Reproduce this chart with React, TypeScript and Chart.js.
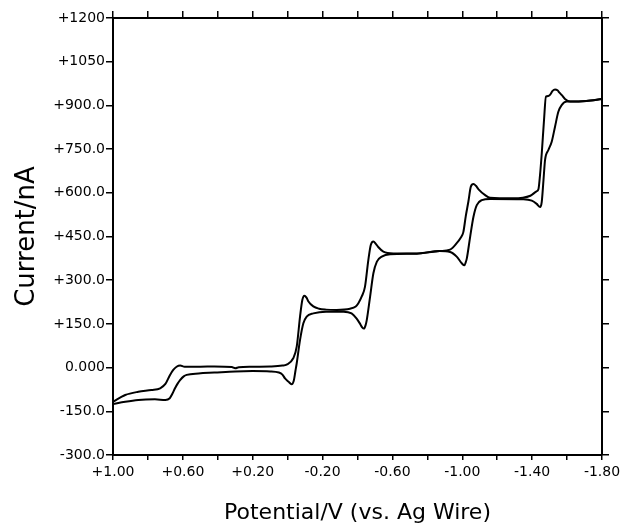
import React, { useEffect, useRef } from 'react';
import { Chart, registerables } from 'chart.js';

Chart.register(...registerables);

// Forward (cathodic) scan: potential in V, current in nA
const forwardPotential = [
  1.0, 0.93, 0.855, 0.78, 0.73, 0.7, 0.675, 0.655, 0.636, 0.615, 0.59, 0.5, 0.42, 0.32, 0.3, 0.28, 0.2, 0.1,
  0.03, 0.006, -0.032, -0.052, -0.071, -0.084, -0.096, -0.108, -0.118, -0.147, -0.18, -0.22, -0.28, -0.357,
  -0.39, -0.405, -0.425, -0.443, -0.462, -0.476, -0.491, -0.505, -0.52, -0.548, -0.605, -0.74, -0.87, -0.93,
  -0.968, -0.99, -1.006, -1.02, -1.035, -1.049, -1.064, -1.078, -1.093, -1.131, -1.159, -1.29, -1.39, -1.425,
  -1.436, -1.445, -1.455, -1.468, -1.479, -1.493, -1.502, -1.517, -1.531, -1.545, -1.555, -1.57, -1.588,
  -1.617, -1.71, -1.8,
];
const forwardCurrent = [
  -117, -94, -83, -77, -71, -56, -27, -8, 3, 7, 3, 3, 4, 2, -2, 1, 3, 4,
  7, 10, 32, 72, 175, 232, 247, 240, 228, 210, 202, 199, 198, 202,
  210, 221, 245, 278, 369, 421, 433, 425, 413, 398, 392, 392, 400, 405,
  427, 445, 465, 520, 570, 621, 630, 624, 612, 592, 583, 581, 590, 605,
  612, 660, 735, 850, 930, 932, 936, 950, 955, 952, 945, 935, 922,
  913, 915, 922,
];

// Reverse (anodic) scan
const reversePotential = [
  1.0, 0.93, 0.855, 0.76, 0.7, 0.675, 0.66, 0.645, 0.63, 0.616, 0.595, 0.578, 0.51, 0.42, 0.3, 0.2, 0.1, 0.05,
  0.03, 0.015, -0.004, -0.023, -0.035, -0.045, -0.052, -0.071, -0.09, -0.109, -0.147, -0.22, -0.32, -0.366,
  -0.394, -0.415, -0.428, -0.437, -0.446, -0.453, -0.472, -0.491, -0.511, -0.539, -0.587, -0.74, -0.87, -0.93,
  -0.968, -0.997, -1.012, -1.02, -1.026, -1.045, -1.064, -1.083, -1.112, -1.159, -1.35, -1.398, -1.426,
  -1.446, -1.455, -1.465, -1.474, -1.493, -1.512, -1.531, -1.55, -1.569, -1.598, -1.617, -1.71, -1.8,
];
const reverseCurrent = [
  -125, -117, -111, -109, -111, -105, -90, -71, -55, -43, -30, -25, -20, -17, -13, -12, -13, -17,
  -24, -37, -48, -57, -45, -10, 15, 95, 152, 175, 186, 192, 192, 186,
  169, 150, 137, 134, 145, 163, 243, 324, 364, 381, 389, 391, 400, 397,
  381, 358, 351, 362, 375, 449, 518, 558, 575, 579, 578, 573, 562,
  551, 569, 644, 713, 747, 775, 827, 878, 901, 913, 913, 915, 922,
];

const xTickValues = [1.0, 0.6, 0.2, -0.2, -0.6, -1.0, -1.4, -1.8];
const xTickLabels = ['+1.00', '+0.60', '+0.20', '-0.20', '-0.60', '-1.00', '-1.40', '-1.80'];
const yTickValues = [-300, -150, 0, 150, 300, 450, 600, 750, 900, 1050, 1200];
const yTickLabels = ['-300.0', '-150.0', '0.000', '+150.0', '+300.0', '+450.0', '+600.0', '+750.0', '+900.0', '+1050', '+1200'];

const FONT = "'DejaVu Sans', sans-serif";

function labelFor(values: number[], labels: string[], v: number): string {
  for (let i = 0; i < values.length; i++) {
    if (Math.abs(values[i] - v) < 1e-6) return labels[i];
  }
  return '';
}

export default function App() {
  const canvasRef = useRef<HTMLCanvasElement | null>(null);

  useEffect(() => {
    if (!canvasRef.current) return;
    const fwd = forwardPotential.map((x, i) => ({ x, y: forwardCurrent[i] }));
    const rev = reversePotential.map((x, i) => ({ x, y: reverseCurrent[i] }));
    const gridStyle = { drawOnChartArea: false, drawTicks: true, color: '#000', lineWidth: 1.5 };
    const borderStyle = { display: true, color: '#000', width: 2 };
    const chart = new Chart(canvasRef.current, {
      type: 'scatter',
      data: {
        datasets: [
          {
            label: 'forward',
            data: fwd,
            showLine: true,
            borderColor: '#000',
            borderWidth: 2,
            pointRadius: 0,
            cubicInterpolationMode: 'monotone',
          },
          {
            label: 'reverse',
            data: rev,
            showLine: true,
            borderColor: '#000',
            borderWidth: 2,
            pointRadius: 0,
            cubicInterpolationMode: 'monotone',
          },
        ],
      },
      options: {
        responsive: true,
        maintainAspectRatio: false,
        animation: false,
        layout: { padding: 0 },
        plugins: { legend: { display: false }, tooltip: { enabled: false } },
        scales: {
          x: {
            type: 'linear',
            position: 'bottom',
            min: -1.8,
            max: 1.0,
            reverse: true,
            ticks: {
              stepSize: 0.2,
              autoSkip: false,
              maxRotation: 0,
              minRotation: 0,
              padding: 4,
              color: '#000',
              font: { family: FONT, size: 14 },
              callback: (v: any) => labelFor(xTickValues, xTickLabels, Number(v)),
            },
            grid: { ...gridStyle, tickLength: 5 },
            border: borderStyle,
            title: {
              display: true,
              text: 'Potential/V (vs. Ag Wire)',
              color: '#000',
              font: { family: FONT, size: 22 },
              padding: { top: 0, bottom: 6 },
            },
            afterFit: (s: any) => {
              s.height = 77;
            },
          },
          xTop: {
            type: 'linear',
            position: 'top',
            min: -1.8,
            max: 1.0,
            reverse: true,
            ticks: { display: false, stepSize: 0.2, autoSkip: false },
            grid: { ...gridStyle, tickLength: 7 },
            border: borderStyle,
            afterFit: (s: any) => {
              s.height = 18;
            },
          },
          y: {
            type: 'linear',
            position: 'left',
            min: -300,
            max: 1200,
            ticks: {
              stepSize: 150,
              autoSkip: false,
              padding: 1,
              color: '#000',
              font: { family: FONT, size: 14 },
              callback: (v: any) => labelFor(yTickValues, yTickLabels, Number(v)),
            },
            grid: { ...gridStyle, tickLength: 7 },
            border: borderStyle,
            title: {
              display: true,
              text: 'Current/nA',
              color: '#000',
              font: { family: FONT, size: 26 },
              padding: { top: 12, bottom: 0 },
            },
            afterFit: (s: any) => {
              s.width = 113;
            },
          },
          yRight: {
            type: 'linear',
            position: 'right',
            min: -300,
            max: 1200,
            ticks: { display: false, stepSize: 150, autoSkip: false },
            grid: { ...gridStyle, tickLength: 7 },
            border: borderStyle,
            afterFit: (s: any) => {
              s.width = 25;
            },
          },
        },
      } as any,
    });
    return () => chart.destroy();
  }, []);

  return (
    <div style={{ position: 'fixed', left: 0, top: 0, width: 627, height: 532, background: '#fff' }}>
      <canvas ref={canvasRef} />
    </div>
  );
}
